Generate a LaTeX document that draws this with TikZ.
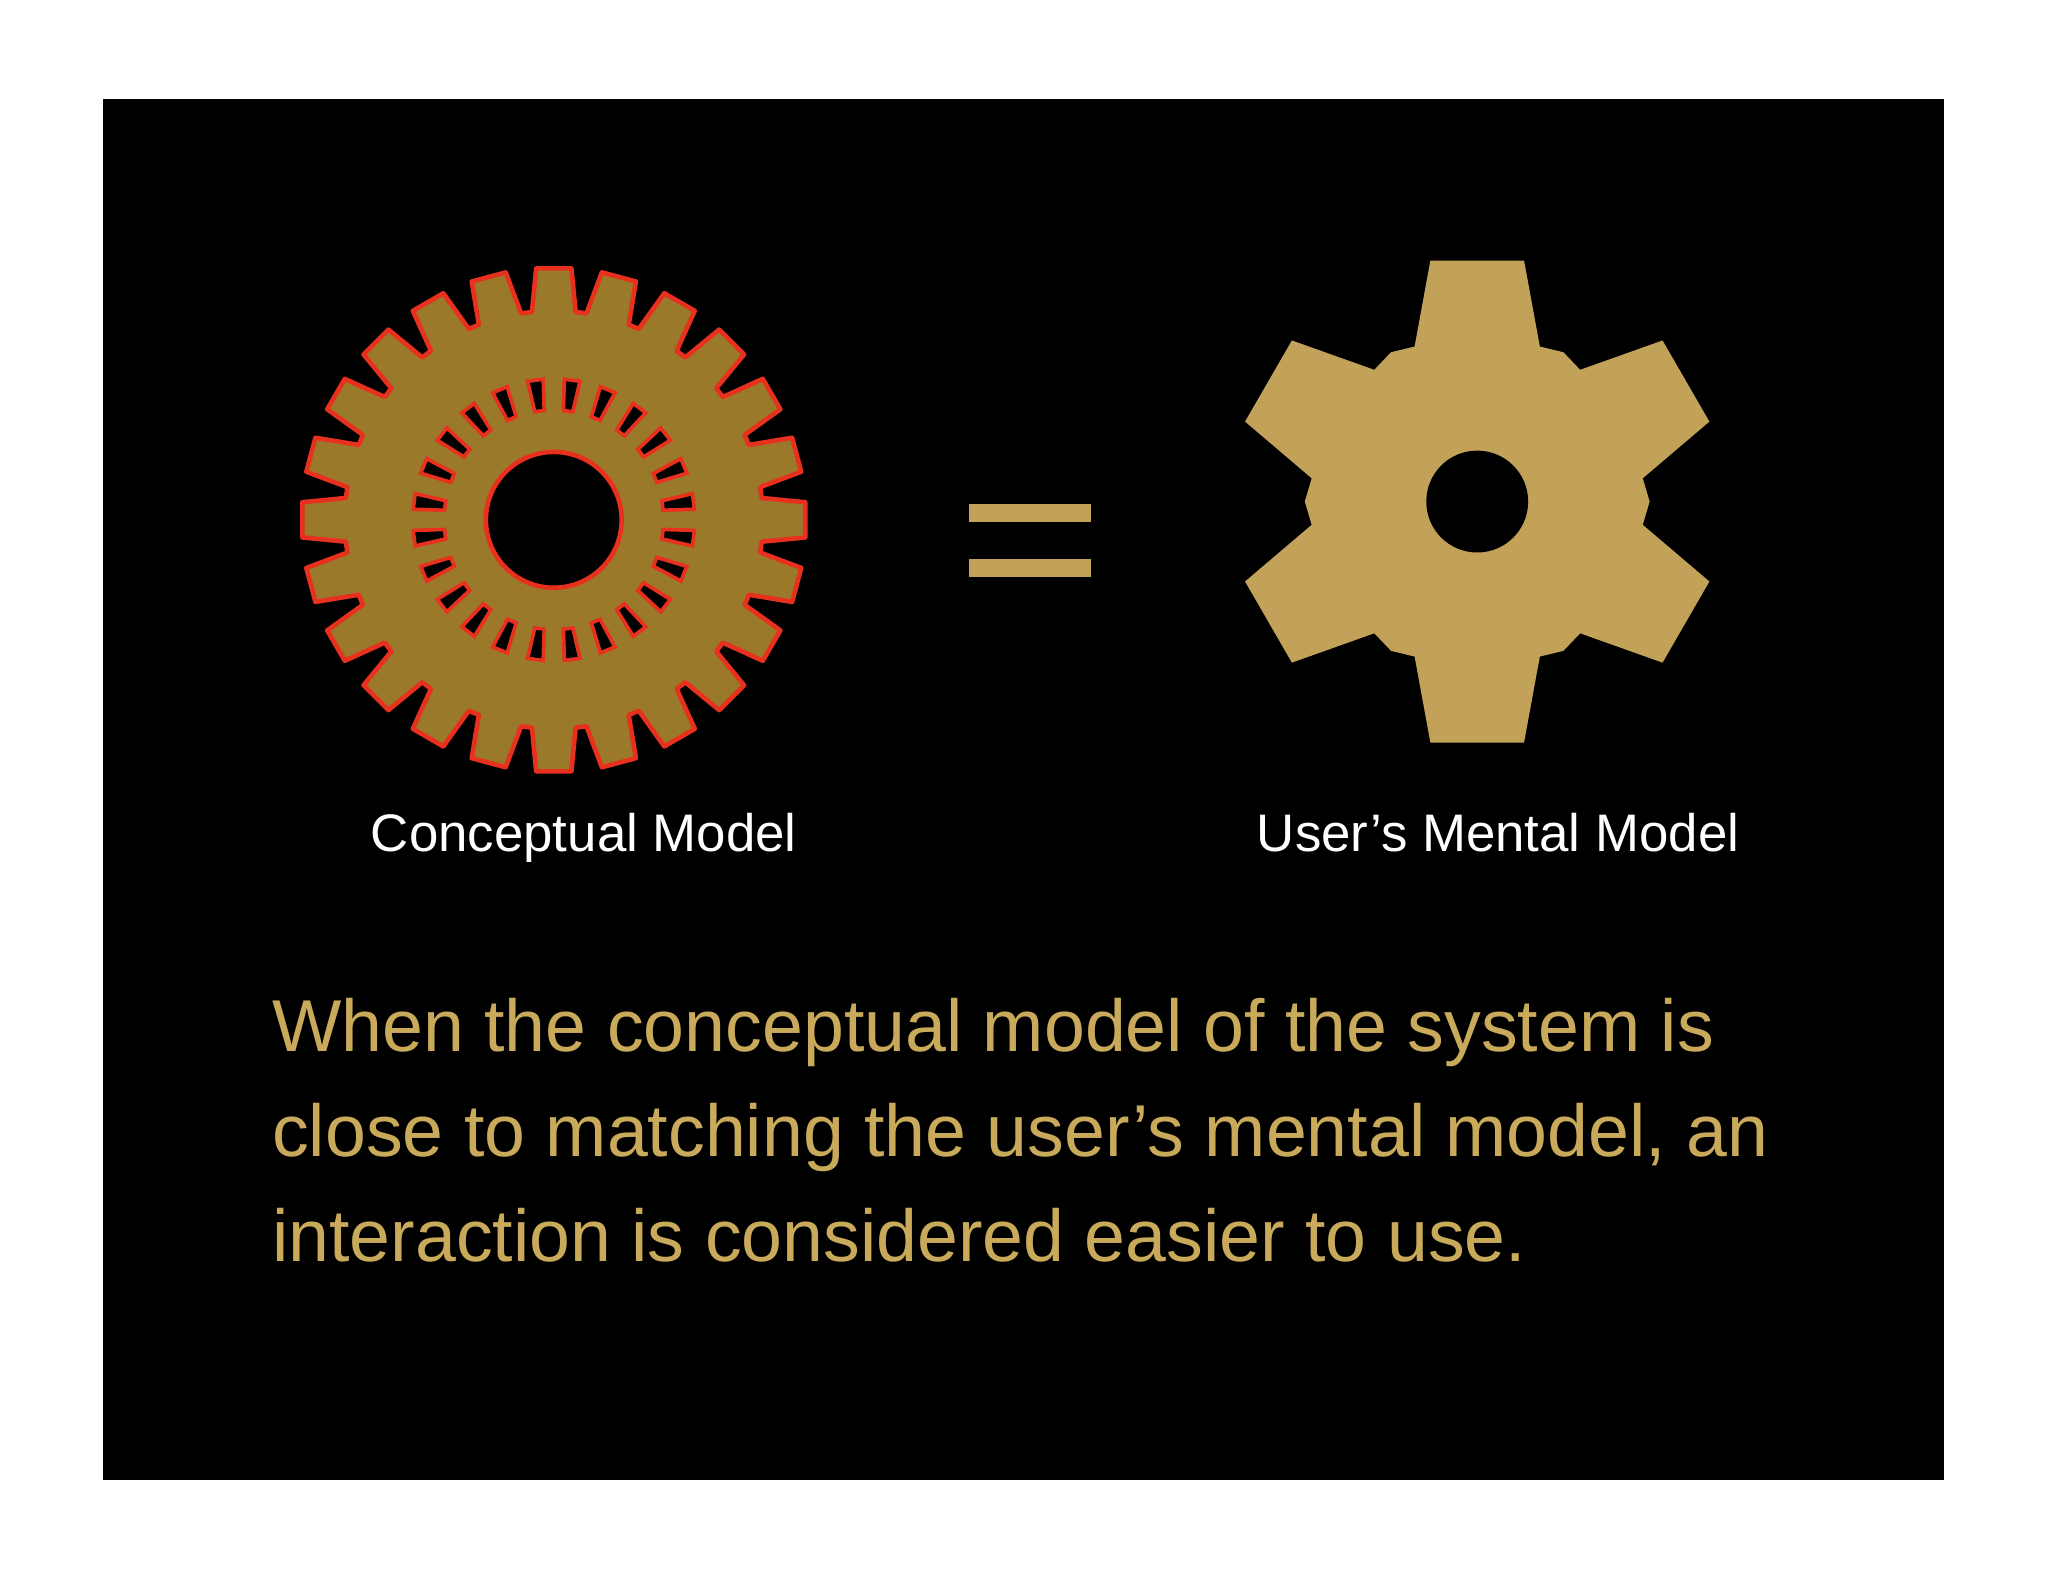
\documentclass[tikz,border=0pt]{standalone}
\usepackage{fontspec}
\setmainfont{Liberation Sans}
\definecolor{gearA}{HTML}{9A7A2A}
\definecolor{gearB}{HTML}{C1A258}
\definecolor{txtgold}{HTML}{C9A95A}
\definecolor{gred}{HTML}{E8301E}
\begin{document}
\begin{tikzpicture}[x=0.01cm,y=-0.01cm,
  lbl/.style={text=white,font=\fontsize{11.5}{14}\selectfont,anchor=base},
  body/.style={text=txtgold,font=\fontsize{16}{22.8}\selectfont,anchor=north west,align=left}]
\useasboundingbox (0,0) rectangle (1568,1212);
\fill[white] (0,0) rectangle (1568,1212);
\fill[black] (79,76) rectangle (1488,1133);
% left gear
\begin{scope}[shift={(424,398)}]
\filldraw[fill=gearA,draw=gred,line width=1pt,line join=round]
  (90-9:160) \foreach \i in {0,...,23}{ -- ({90+15*\i-6}:160) -- ({90+15*\i-4}:193) -- ({90+15*\i+4}:193) -- ({90+15*\i+6}:160)} -- cycle;
\foreach \i in {0,...,23}{
  \filldraw[fill=black,draw=gred,line width=0.8pt]
   ({97.5+15*\i-2.5}:84) -- ({97.5+15*\i-3.2}:108) -- ({97.5+15*\i+3.2}:108) -- ({97.5+15*\i+2.5}:84) -- cycle;}
\filldraw[fill=black,draw=gred,line width=1pt] (0,0) circle (52);
\end{scope}
\node (lcm) [lbl] at (447,652) {Conceptual Model};
% equals
\fill[gearB] (742,386) rectangle (835,400);
\fill[gearB] (742,428) rectangle (835,442);
% right gear
\begin{scope}[shift={(1131,384)}]
\fill[gearB] (90-22:128) \foreach \i in {0,...,5}{ -- ({90+60*\i-22}:128) -- ({90+60*\i-11}:188) -- ({90+60*\i+11}:188) -- ({90+60*\i+22}:128) -- ({90+60*\i+30}:132)} -- cycle;
\fill[black] (0,0) circle (39);
\end{scope}
\node (rum) [lbl] at (1147,652) {User’s Mental Model};
\node (txt) [body] at (196,752) {When the conceptual model of the system is\\close to matching the user’s mental model, an\\interaction is considered easier to use.};
\end{tikzpicture}
\end{document}
